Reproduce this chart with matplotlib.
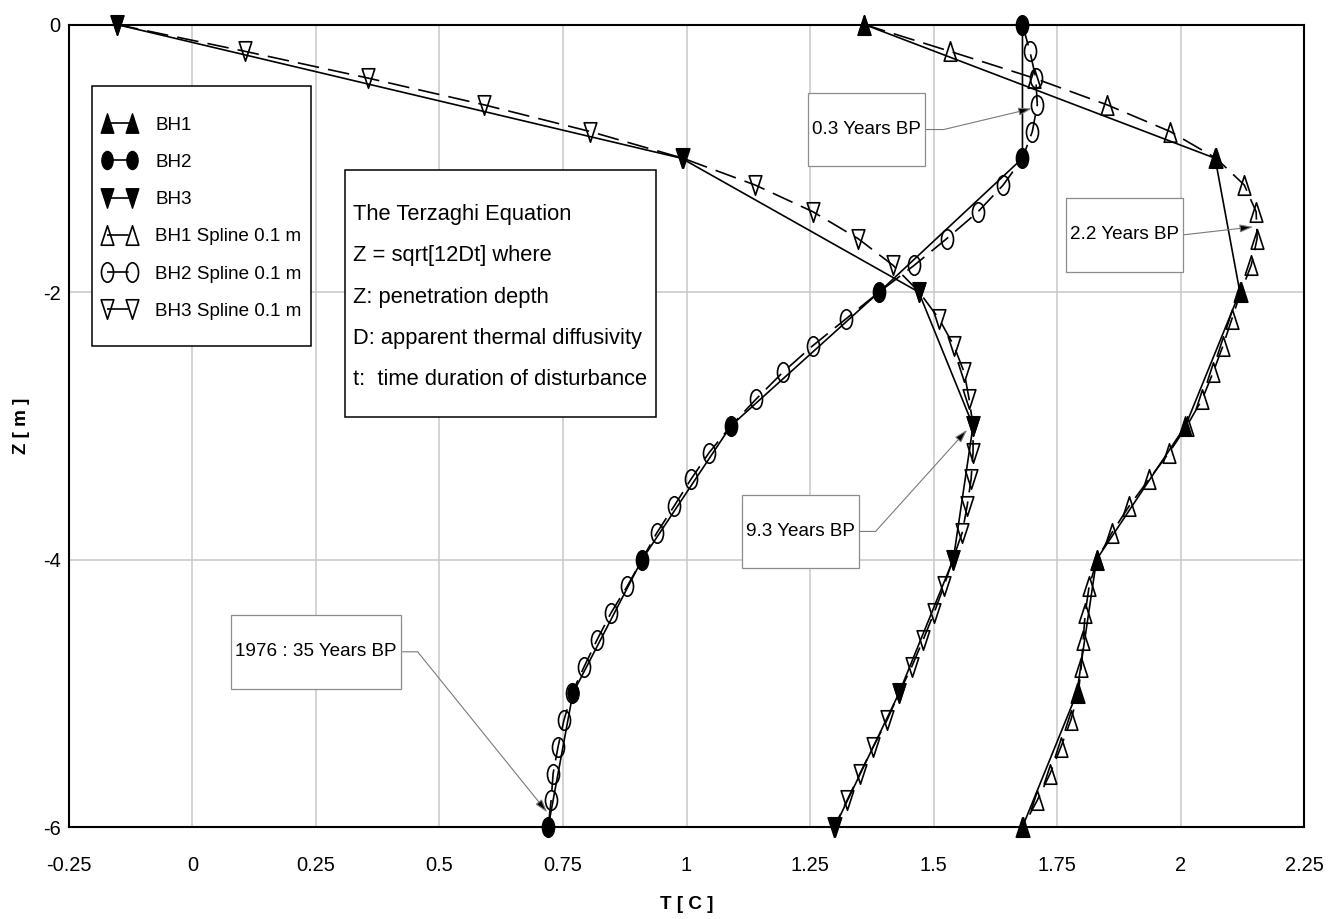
import matplotlib
matplotlib.use("Agg")
import matplotlib.pyplot as plt
from matplotlib import font_manager
from matplotlib.path import Path
from matplotlib.transforms import Affine2D

# Profundidades de las mediciones (m) y del spline (cada 0.2 m)
z_obs = [0, -1, -2, -3, -4, -5, -6]
z_spl = [0.0, -0.2, -0.4, -0.6, -0.8, -1.0, -1.2, -1.4, -1.6, -1.8,
         -2.0, -2.2, -2.4, -2.6, -2.8, -3.0, -3.2, -3.4, -3.6, -3.8,
         -4.0, -4.2, -4.4, -4.6, -4.8, -5.0, -5.2, -5.4, -5.6, -5.8, -6.0]

# Temperaturas medidas (C)
t_bh1 = [1.36, 2.07, 2.12, 2.01, 1.83, 1.79, 1.68]
t_bh2 = [1.68, 1.68, 1.39, 1.09, 0.91, 0.77, 0.72]
t_bh3 = [-0.153, 0.99, 1.47, 1.58, 1.54, 1.43, 1.30]

# Temperaturas del spline (C)
t_bh1_spl = [1.36, 1.533, 1.703, 1.851, 1.979, 2.072, 2.129, 2.153, 2.155, 2.143,
             2.122, 2.104, 2.086, 2.066, 2.044, 2.013, 1.977, 1.936, 1.896, 1.861,
             1.831, 1.815, 1.807, 1.803, 1.799, 1.793, 1.778, 1.758, 1.736, 1.71, 1.681]
t_bh2_spl = [1.68, 1.695, 1.707, 1.71, 1.70, 1.68, 1.641, 1.59, 1.527, 1.461,
             1.39, 1.323, 1.256, 1.195, 1.141, 1.09, 1.046, 1.009, 0.975, 0.94,
             0.91, 0.88, 0.847, 0.819, 0.793, 0.768, 0.752, 0.74, 0.73, 0.726, 0.72]
t_bh3_spl = [-0.153, 0.106, 0.355, 0.59, 0.805, 0.993, 1.139, 1.256, 1.347, 1.418,
             1.471, 1.511, 1.541, 1.562, 1.572, 1.58, 1.58, 1.576, 1.568, 1.558,
             1.539, 1.521, 1.501, 1.479, 1.456, 1.43, 1.406, 1.378, 1.351, 1.325, 1.299]

x_ticks = [-0.25, 0, 0.25, 0.5, 0.75, 1, 1.25, 1.5, 1.75, 2, 2.25]
x_tick_labels = ["-0.25", "0", "0.25", "0.5", "0.75", "1", "1.25", "1.5", "1.75", "2", "2.25"]
y_ticks = [0, -2, -4, -6]
y_tick_labels = ["0", "-2", "-4", "-6"]

# Anotaciones: texto, punto señalado, centro de la caja, angulo del tramo final
notas = [
    ("0.3 Years BP", (1.699, -0.628), (1.365, -0.785), 193.4),
    ("2.2 Years BP", (2.147, -1.513), (1.886, -1.573), 186.5),
    ("9.3 Years BP", (1.568, -3.03), (1.23, -3.79), 228.0),
    ("1976 : 35 Years BP", (0.718, -5.89), (0.25, -4.69), 128.9),
]

texto_terzaghi = ("The Terzaghi Equation\n"
                  "Z = sqrt[12Dt] where\n"
                  "Z: penetration depth\n"
                  "D: apparent thermal diffusivity\n"
                  "t:  time duration of disturbance")

nombres = {f.name for f in font_manager.fontManager.ttflist}
if "Liberation Sans Narrow" in nombres:
    fuente, k = "Liberation Sans Narrow", 1.0
else:
    fuente, k = "Liberation Sans", 0.85
plt.rcParams["font.family"] = [fuente, "DejaVu Sans"]


def marcador(verts):
    codes = [Path.MOVETO] + [Path.LINETO] * (len(verts) - 1) + [Path.CLOSEPOLY]
    return Path(verts + [verts[0]], codes)


tri_up = marcador([(-0.65, -1.0), (0.65, -1.0), (0.0, 1.0)])
tri_dn = marcador([(-0.65, 1.0), (0.65, 1.0), (0.0, -1.0)])
circ = Path.unit_circle().transformed(Affine2D().scale(0.62, 1.0))


def caja(pad_x, pad_top, pad_bottom):
    # caja rectangular con margenes distintos a los lados, arriba y abajo
    def estilo(x0, y0, width, height, mutation_size):
        px = pad_x * mutation_size
        xa, ya = x0 - px, y0 - pad_bottom * mutation_size
        xb, yb = x0 + width + px, y0 + height + pad_top * mutation_size
        return Path([(xa, ya), (xb, ya), (xb, yb), (xa, yb), (xa, ya)], closed=True)
    return estilo


fig = plt.figure(figsize=(13.36, 9.19), dpi=100)
ax = fig.add_axes([0.0516, 0.1001, 0.9245, 0.8732])

obs = dict(color="black", lw=1.2, clip_on=False, zorder=4)
spl = dict(color="black", lw=1.2, ls=(0, (13, 5.5)), mfc="none", mec="black",
           mew=1.2, clip_on=False, zorder=3)

s1, = ax.plot(t_bh1_spl, z_spl, marker=tri_up, ms=14, label="BH1 Spline 0.1 m", **spl)
s2, = ax.plot(t_bh2_spl, z_spl, marker=circ, ms=14, label="BH2 Spline 0.1 m", **spl)
s3, = ax.plot(t_bh3_spl, z_spl, marker=tri_dn, ms=14, label="BH3 Spline 0.1 m", **spl)
l1, = ax.plot(t_bh1, z_obs, marker=tri_up, ms=14, label="BH1", **obs)
l2, = ax.plot(t_bh2, z_obs, marker=circ, ms=13, label="BH2", **obs)
l3, = ax.plot(t_bh3, z_obs, marker=tri_dn, ms=14, label="BH3", **obs)

ax.set_xlim(-0.25, 2.25)
ax.set_ylim(-6, 0)
ax.set_xticks(x_ticks)
ax.set_xticklabels(x_tick_labels)
ax.set_yticks(y_ticks)
ax.set_yticklabels(y_tick_labels)
ax.tick_params(length=0, labelsize=17 * k)
ax.tick_params(axis="x", pad=21)
ax.tick_params(axis="y", pad=6)
ax.grid(True, color="#c8c8c8", lw=1.1)
ax.set_axisbelow(True)
for sp in ax.spines.values():
    sp.set_linewidth(1.5)

ax.set_xlabel("T [ C ]", fontsize=16 * k, fontweight="bold", labelpad=15)
ax.set_ylabel("Z [ m ]", fontsize=16 * k, fontweight="bold", labelpad=9)

leg = ax.legend(handles=[l1, l2, l3, s1, s2, s3], loc="upper left",
                bbox_to_anchor=(0.0186, 0.8972), borderaxespad=0,
                fontsize=16 * k, numpoints=2, handlelength=1.9,
                handletextpad=0.95, borderpad=0.5, labelspacing=1.06,
                fancybox=False, framealpha=1, edgecolor="black")
leg.get_frame().set_linewidth(1.1)
leg.get_frame().set_boxstyle(caja(0, 1.11, 0.9))
leg.set_zorder(6)

ax.text(0.23, 0.7763, texto_terzaghi, transform=ax.transAxes, ha="left", va="top",
        fontsize=18.5 * k, linespacing=2.27, zorder=6,
        bbox=dict(boxstyle=caja(0.39, 1.56, 1.22), fc="white", ec="black", lw=1.1))

for texto, punto, centro, ang in notas:
    ax.annotate(texto, xy=punto, xytext=centro, ha="center", va="center",
                fontsize=16 * k, zorder=7,
                bbox=dict(boxstyle=caja(0.22, 1.5, 1.5), fc="white", ec="#8c8c8c", lw=0.9),
                arrowprops=dict(arrowstyle="-|>,head_length=0.5,head_width=0.15",
                                mutation_scale=16, ec="#7a7a7a", fc="black", lw=0.8,
                                shrinkA=0, shrinkB=0, relpos=(1, 0.5),
                                connectionstyle="angle,angleA=0,angleB=%g,rad=0" % ang))

fig.savefig("out.png", dpi=100)
